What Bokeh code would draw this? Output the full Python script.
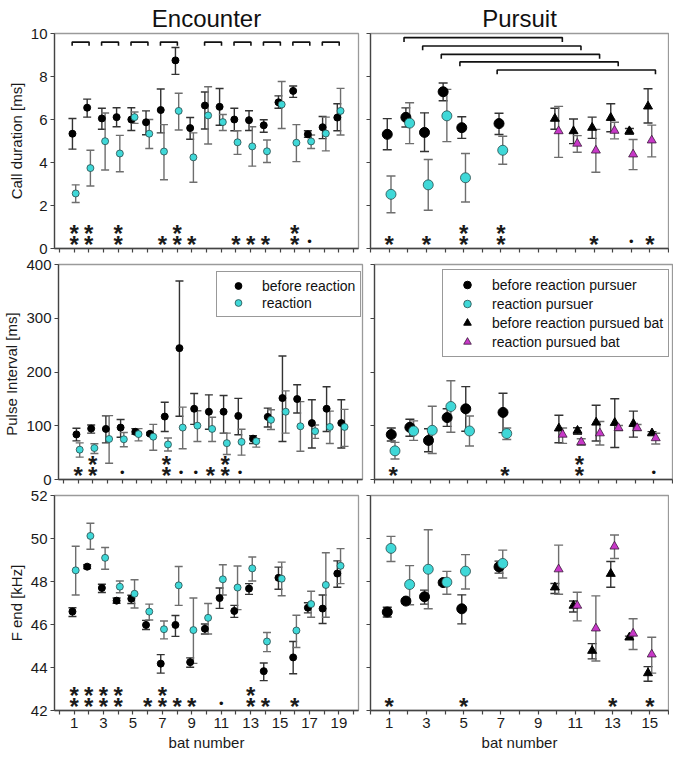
from bokeh.plotting import figure
from bokeh.layouts import column, row
from bokeh.models import Range1d, FixedTicker, Legend, LegendItem
from bokeh.core.properties import value
from bokeh.embed import file_html
from bokeh.resources import INLINE

FONT = "Liberation Sans"
CYAN = "#3fd8d8"
MAGENTA = "#c838c8"
EDARK = "#333333"
EGREY = "#6e6e6e"

# ---------------- Encounter (bats 1..19) ----------------
enc_bats = list(range(1, 20))

enc_dur_b = [5.34, 6.55, 6.05, 6.11, 6.00, 5.87, 6.44, 8.75, 5.60, 6.65, 6.59, 6.00, 5.97, 5.73, 6.80, 7.33, 5.31, 5.64, 6.09]
enc_dur_b_lo = [4.62, 6.11, 5.55, 5.66, 5.49, 5.29, 5.38, 8.10, 5.08, 5.56, 5.73, 5.48, 5.49, 5.41, 6.52, 7.03, 5.17, 5.11, 5.48]
enc_dur_b_hi = [6.05, 6.95, 6.52, 6.55, 6.55, 6.40, 7.42, 9.35, 6.09, 7.28, 7.44, 6.52, 6.41, 5.99, 7.10, 7.56, 5.48, 6.14, 6.73]
enc_dur_r = [2.56, 3.74, 4.99, 4.42, 6.11, 5.34, 4.51, 6.40, 4.24, 6.19, 5.88, 4.94, 4.75, 4.52, 6.70, 4.92, 4.98, 5.35, 6.40]
enc_dur_r_lo = [2.14, 2.91, 3.65, 3.57, 5.82, 4.65, 3.20, 5.51, 3.08, 4.86, 5.49, 4.38, 3.83, 4.00, 5.58, 4.04, 4.65, 4.54, 5.28]
enc_dur_r_hi = [2.96, 4.57, 6.30, 5.26, 6.35, 6.00, 5.76, 7.22, 5.38, 7.52, 6.23, 5.48, 5.66, 5.05, 7.77, 5.76, 5.28, 6.11, 7.45]

enc_pi_b = [83.9, 94.7, 94.1, 96.6, 88.7, 85.1, 117.1, 244.4, 131.6, 126.1, 126.1, 118.3, 76.0, 116.5, 151.5, 149.7, 105.0, 131.6, 105.0]
enc_pi_b_lo = [71.8, 86.3, 68.2, 78.5, 84.5, 82.7, 89.3, 117.7, 102.6, 93.5, 86.3, 83.3, 67.0, 97.8, 70.6, 123.7, 58.5, 89.3, 58.5]
enc_pi_b_hi = [95.4, 101.4, 118.3, 111.6, 94.7, 87.5, 143.6, 369.3, 159.9, 157.5, 156.3, 150.9, 81.5, 132.8, 229.9, 176.2, 148.5, 172.6, 148.5]
enc_pi_r = [55.5, 58.5, 75.4, 74.8, 84.5, 79.7, 65.2, 96.6, 100.2, 94.1, 67.6, 70.0, 71.2, 111.0, 126.1, 99.0, 89.9, 97.8, 97.8]
enc_pi_r_lo = [41.6, 48.3, 30.2, 61.0, 71.8, 54.3, 53.1, 57.3, 70.6, 70.6, 46.5, 45.3, 60.3, 92.9, 86.3, 52.5, 76.6, 67.0, 61.6]
enc_pi_r_hi = [68.2, 66.4, 118.9, 87.5, 94.7, 102.6, 77.2, 134.6, 128.0, 115.9, 86.3, 93.5, 76.0, 129.8, 164.8, 144.8, 101.4, 127.3, 130.4]

enc_fe_b = [46.60, 48.69, 47.70, 47.11, 47.20, 45.98, 44.18, 45.98, 44.25, 45.80, 47.23, 46.63, 47.67, 43.83, 48.17, 44.47, 46.78, 46.74, 48.37]
enc_fe_b_lo = [46.37, 48.60, 47.49, 46.99, 46.98, 45.77, 43.74, 45.45, 44.01, 45.56, 46.75, 46.33, 47.40, 43.39, 47.64, 43.71, 46.54, 46.05, 47.73]
enc_fe_b_hi = [46.78, 48.78, 47.87, 47.23, 47.36, 46.19, 44.60, 46.42, 44.45, 46.02, 47.70, 46.89, 47.90, 44.21, 48.67, 45.21, 47.01, 47.37, 48.96]
enc_fe_r = [48.52, 50.12, 49.10, 47.76, 47.43, 46.60, 45.78, 47.82, 45.74, 46.31, 48.10, 47.72, 48.61, 45.21, 48.13, 45.72, 46.95, 47.84, 48.73]
enc_fe_r_lo = [47.37, 49.50, 48.57, 47.48, 46.77, 46.21, 45.33, 46.89, 44.19, 45.56, 47.37, 46.69, 48.02, 44.74, 47.34, 44.93, 46.34, 46.34, 47.90]
enc_fe_r_hi = [49.64, 50.71, 49.58, 48.02, 48.08, 46.95, 46.16, 48.70, 47.23, 46.98, 48.78, 48.72, 49.14, 45.63, 48.90, 46.43, 47.55, 49.34, 49.53]

enc_pairs = [(1, 2), (3, 4), (5, 6), (7, 8), (10, 11), (12, 13), (14, 15), (16, 17), (18, 19)]

enc_dur_sig = [(1, "**"), (2, "**"), (4, "**"), (7, "*"), (8, "**"), (9, "*"), (12, "*"), (13, "*"), (14, "*"), (16, "**"), (17, ".")]
enc_pi_sig = [(1, "*"), (2, "**"), (4, "."), (7, "**"), (8, "."), (9, "."), (10, "*"), (11, "**"), (12, ".")]
enc_fe_sig = [(1, "**"), (2, "**"), (3, "**"), (4, "**"), (6, "*"), (7, "**"), (8, "*"), (9, "*"), (11, "."), (13, "**"), (14, "*"), (16, "*")]

# ---------------- Pursuit ----------------
pur_bats = [1, 2, 3, 4, 5, 7]        # pursuers
prd_bats = [10, 11, 12, 13, 14, 15]  # pursued bats

pur_dur_b = [5.31, 6.10, 5.40, 7.29, 5.62, 5.81]
pur_dur_b_lo = [4.59, 5.65, 4.51, 6.87, 5.12, 5.30]
pur_dur_b_hi = [6.04, 6.54, 6.31, 7.70, 6.13, 6.29]
pur_dur_r = [2.52, 5.83, 2.96, 6.17, 3.29, 4.57]
pur_dur_r_lo = [1.66, 4.88, 1.78, 4.97, 2.16, 3.92]
pur_dur_r_hi = [3.37, 6.78, 4.14, 7.40, 4.42, 5.22]
prd_dur_b = [6.04, 5.46, 5.62, 6.08, 5.46, 6.61]
prd_dur_b_lo = [5.55, 4.88, 5.12, 5.43, 5.31, 5.84]
prd_dur_b_hi = [6.52, 6.02, 6.11, 6.73, 5.58, 7.43]
prd_dur_r = [5.46, 4.88, 4.56, 5.48, 4.38, 5.03]
prd_dur_r_lo = [4.24, 4.48, 3.55, 5.10, 3.67, 4.26]
prd_dur_r_hi = [6.61, 5.25, 5.54, 5.87, 5.07, 5.74]

pur_pi_b = [83.6, 97.0, 72.7, 115.2, 131.5, 124.8]
pur_pi_b_lo = [71.5, 80.6, 51.5, 98.8, 89.7, 87.3]
pur_pi_b_hi = [95.8, 112.1, 94.5, 131.5, 172.7, 160.6]
pur_pi_r = [53.3, 90.3, 91.5, 135.8, 90.3, 85.5]
pur_pi_r_lo = [38.2, 72.7, 48.5, 87.9, 62.4, 74.5]
pur_pi_r_hi = [69.1, 109.1, 136.4, 183.6, 118.2, 95.8]
prd_pi_b = [95.2, 90.9, 106.1, 105.5, 103.6, 86.1]
prd_pi_b_lo = [68.5, 84.2, 71.5, 59.4, 78.8, 83.6]
prd_pi_b_hi = [119.4, 96.4, 138.2, 150.3, 127.3, 89.1]
prd_pi_r = [83.6, 69.7, 86.1, 95.8, 95.8, 77.0]
prd_pi_r_lo = [67.3, 63.6, 64.2, 90.9, 90.9, 66.1]
prd_pi_r_hi = [95.8, 75.8, 107.9, 100.6, 102.4, 86.1]

pur_fe_b = [46.58, 47.09, 47.29, 47.95, 46.73, 48.68]
pur_fe_b_lo = [46.35, 46.97, 46.95, 47.82, 46.03, 48.39]
pur_fe_b_hi = [46.80, 47.18, 47.60, 48.04, 47.38, 48.95]
pur_fe_r = [49.54, 47.86, 48.57, 47.97, 48.48, 48.84]
pur_fe_r_lo = [48.93, 46.92, 46.73, 47.41, 47.65, 48.16]
pur_fe_r_hi = [50.10, 48.74, 50.41, 48.47, 49.25, 49.46]
prd_fe_b = [47.73, 46.88, 44.78, 48.36, 45.40, 43.74]
prd_fe_b_lo = [47.44, 46.58, 44.40, 47.73, 45.32, 43.36]
prd_fe_b_hi = [47.91, 47.09, 45.11, 48.93, 45.46, 44.04]
prd_fe_r = [48.57, 46.88, 45.82, 49.63, 45.58, 44.61]
prd_fe_r_lo = [47.41, 46.17, 44.30, 49.07, 44.84, 43.74]
prd_fe_r_hi = [49.69, 47.50, 47.33, 50.16, 46.27, 45.41]

pur_pairs = [(2, 10), (3, 11), (4, 12), (5, 13), (7, 15)]

pur_dur_sig = [(1, "*"), (3, "*"), (5, "**"), (7, "**"), (12, "*"), (14, "."), (15, "*")]
pur_pi_sig = [(1, "*"), (7, "*"), (11, "**"), (15, ".")]
pur_fe_sig = [(1, "*"), (5, "*"), (13, "*"), (15, "*")]

# axis settings
dur_range, dur_ticks = (0, 10), [0, 2, 4, 6, 8, 10]
pi_range, pi_ticks = (0, 400), [0, 100, 200, 300, 400]
fe_range, fe_ticks = (42, 52), [42, 44, 46, 48, 50, 52]

LFW, RFW, FH = 304, 298, 215


def make_fig(left, yr, yticks, ylabel=None, title=None, xlabels=False):
    p = figure(frame_width=LFW if left else RFW, frame_height=FH,
               x_range=Range1d(-0.33, 20.33) if left else Range1d(0, 16),
               y_range=Range1d(*yr),
               output_backend="svg", toolbar_location=None,
               min_border_left=54 if left else 8, min_border_right=4 if left else 1,
               min_border_top=0 if title else 7, min_border_bottom=44 if xlabels else 9,
               background_fill_color="white", border_fill_color="white")
    p.xgrid.visible = False
    p.ygrid.visible = False
    p.outline_line_color = "#9a9a9a"
    p.outline_line_width = 1.3
    if title:
        p.title.text = title
        p.title.align = "center"
        p.title.text_font = FONT
        p.title.text_font_size = "24px"
        p.title.text_font_style = "normal"
        p.title.text_color = "#111111"
        p.title.standoff = 4
    nmax = 20 if left else 16
    odd = list(range(1, nmax, 2))
    even = list(range(0, nmax + 1, 2))
    p.xaxis[0].ticker = FixedTicker(ticks=odd, minor_ticks=even)
    p.yaxis[0].ticker = FixedTicker(ticks=yticks, minor_ticks=[])
    for ax in (p.xaxis[0], p.yaxis[0]):
        ax.axis_line_color = "#444444"
        ax.axis_line_width = 1.3
        ax.major_tick_line_color = "#444444"
        ax.major_tick_line_width = 1.2
        ax.major_tick_out = 4
        ax.major_tick_in = 0
        ax.minor_tick_line_color = "#444444"
        ax.minor_tick_line_width = 1.2
        ax.minor_tick_out = 4
        ax.minor_tick_in = 0
        ax.major_label_text_font = FONT
        ax.major_label_text_font_size = "15px"
        ax.major_label_text_color = "#1a1a1a"
        ax.major_label_standoff = 3
        ax.axis_label_text_font = FONT
        ax.axis_label_text_font_size = "15px"
        ax.axis_label_text_font_style = "normal"
        ax.axis_label_text_color = "#1a1a1a"
        ax.axis_label_standoff = 3
    if xlabels:
        p.xaxis[0].axis_label = "bat number"
    else:
        p.xaxis[0].major_label_text_color = None
        p.xaxis[0].major_label_text_font_size = "1px"
        p.xaxis[0].major_label_standoff = 0
    if left:
        p.yaxis[0].axis_label = ylabel
    else:
        p.yaxis[0].major_label_text_color = None
        p.yaxis[0].major_label_text_font_size = "1px"
        p.yaxis[0].major_label_standoff = 0
    return p


def errbars(p, xs, lo, hi, color, cap):
    p.segment(x0=xs, y0=lo, x1=xs, y1=hi, line_color=color, line_width=1.4)
    p.scatter(x=list(xs) + list(xs), y=list(lo) + list(hi), marker="dash",
              size=cap, line_color=color, line_width=1.4)


def series(p, bats, dx, lo, hi, ecolor, cap):
    xs = [b + dx for b in bats]
    errbars(p, xs, lo, hi, ecolor, cap)
    return xs


def sig(p, marks, yr):
    y0, y1 = yr
    span = y1 - y0
    sx, sy, dx_, dy_ = [], [], [], []
    for b, code in marks:
        if code == ".":
            dx_.append(b)
            dy_.append(y0 + 0.03 * span)
        else:
            sx.append(b)
            sy.append(y0 + 0.033 * span)
            if code == "**":
                sx.append(b)
                sy.append(y0 + 0.083 * span)
    p.text(x=sx, y=sy, text=["*"] * len(sx), text_font=value(FONT),
           text_font_size="24px", text_font_style="bold", text_color="#1a1a1a",
           text_align="center", text_baseline="alphabetic", y_offset=3)
    if dx_:
        p.text(x=dx_, y=dy_, text=["\u2022"] * len(dx_), text_font=value(FONT),
               text_font_size="13px", text_color="#111111",
               text_align="center", text_baseline="alphabetic", y_offset=-1)


def brackets(p, pairs, levels, a, b, leg):
    xs, ys = [], []
    for (i, j), h in zip(pairs, levels):
        xs.append([i - a, i - a, j + b, j + b])
        ys.append([h - leg, h, h, h - leg])
    p.multi_line(xs=xs, ys=ys, line_color="#111111", line_width=1.6)


def enc_panel(yr, yticks, ylabel, b, blo, bhi, r, rlo, rhi, marks, title=None, xlabels=False):
    p = make_fig(True, yr, yticks, ylabel=ylabel, title=title, xlabels=xlabels)
    xb = series(p, enc_bats, -0.11, blo, bhi, EDARK, 8)
    xr = series(p, enc_bats, 0.11, rlo, rhi, EGREY, 8)
    rb = p.scatter(x=xb, y=b, marker="circle", size=7, fill_color="black", line_color="black")
    rr = p.scatter(x=xr, y=r, marker="circle", size=7, fill_color=CYAN, line_color="#2a4a4a", line_width=0.8)
    sig(p, marks, yr)
    return p, rb, rr


def pur_panel(yr, yticks, data, marks, title=None, xlabels=False):
    (pb, pblo, pbhi, pr, prlo, prhi, qb, qblo, qbhi, qr, qrlo, qrhi) = data
    p = make_fig(False, yr, yticks, title=title, xlabels=xlabels)
    x1 = series(p, pur_bats, -0.1, pblo, pbhi, EDARK, 9)
    x2 = series(p, pur_bats, 0.1, prlo, prhi, EGREY, 9)
    x3 = series(p, prd_bats, -0.1, qblo, qbhi, EDARK, 9)
    x4 = series(p, prd_bats, 0.1, qrlo, qrhi, EGREY, 9)
    r1 = p.scatter(x=x1, y=pb, marker="circle", size=10, fill_color="black", line_color="black")
    r2 = p.scatter(x=x2, y=pr, marker="circle", size=10, fill_color=CYAN, line_color="#2a4a4a", line_width=0.8)
    r3 = p.scatter(x=x3, y=qb, marker="triangle", size=9, fill_color="black", line_color="black")
    r4 = p.scatter(x=x4, y=qr, marker="triangle", size=9, fill_color=MAGENTA, line_color="#3a1a3a", line_width=0.8)
    sig(p, marks, yr)
    return p, (r1, r2, r3, r4)


def style_legend(lg):
    lg.label_text_font = FONT
    lg.label_text_font_size = "14px"
    lg.label_text_color = "#111111"
    lg.border_line_color = "#333333"
    lg.border_line_width = 1.3
    lg.background_fill_color = "white"
    lg.background_fill_alpha = 1.0
    lg.margin = 0


# Row 1: call duration
p1, _, _ = enc_panel(dur_range, dur_ticks, "Call duration [ms]",
                     enc_dur_b, enc_dur_b_lo, enc_dur_b_hi, enc_dur_r, enc_dur_r_lo, enc_dur_r_hi,
                     enc_dur_sig, title="Encounter")
brackets(p1, enc_pairs, [9.6] * len(enc_pairs), 0.13, 0.02, 0.17)

p2, _ = pur_panel(dur_range, dur_ticks,
                  (pur_dur_b, pur_dur_b_lo, pur_dur_b_hi, pur_dur_r, pur_dur_r_lo, pur_dur_r_hi,
                   prd_dur_b, prd_dur_b_lo, prd_dur_b_hi, prd_dur_r, prd_dur_r_lo, prd_dur_r_hi),
                  pur_dur_sig, title="Pursuit")
brackets(p2, pur_pairs, [9.81, 9.42, 9.03, 8.68, 8.30], 0.2, 0.3, 0.2)

# Row 2: pulse interval
p3, rb, rr = enc_panel(pi_range, pi_ticks, "Pulse Interval  [ms]",
                       enc_pi_b, enc_pi_b_lo, enc_pi_b_hi, enc_pi_r, enc_pi_r_lo, enc_pi_r_hi,
                       enc_pi_sig)
lg1 = Legend(items=[LegendItem(label="before reaction", renderers=[rb]),
                    LegendItem(label="reaction", renderers=[rr])],
             location=(LFW - 146, FH - 9 - 44),
             padding=5, spacing=0, glyph_width=32, glyph_height=17, label_height=17,
             label_standoff=8)
style_legend(lg1)
p3.add_layout(lg1)

p4, rends = pur_panel(pi_range, pi_ticks,
                      (pur_pi_b, pur_pi_b_lo, pur_pi_b_hi, pur_pi_r, pur_pi_r_lo, pur_pi_r_hi,
                       prd_pi_b, prd_pi_b_lo, prd_pi_b_hi, prd_pi_r, prd_pi_r_lo, prd_pi_r_hi),
                      pur_pi_sig)
lg2 = Legend(items=[LegendItem(label="before reaction pursuer", renderers=[rends[0]]),
                    LegendItem(label="reaction pursuer", renderers=[rends[1]]),
                    LegendItem(label="before reaction pursued bat", renderers=[rends[2]]),
                    LegendItem(label="reaction pursued bat", renderers=[rends[3]])],
             location=(RFW - 230, FH - 7 - 86),
             padding=5, spacing=0, glyph_width=38, glyph_height=19, label_height=19,
             label_standoff=6)
style_legend(lg2)
p4.add_layout(lg2)

# Row 3: F end
p5, _, _ = enc_panel(fe_range, fe_ticks, "F end [kHz]",
                     enc_fe_b, enc_fe_b_lo, enc_fe_b_hi, enc_fe_r, enc_fe_r_lo, enc_fe_r_hi,
                     enc_fe_sig, xlabels=True)
p6, _ = pur_panel(fe_range, fe_ticks,
                  (pur_fe_b, pur_fe_b_lo, pur_fe_b_hi, pur_fe_r, pur_fe_r_lo, pur_fe_r_hi,
                   prd_fe_b, prd_fe_b_lo, prd_fe_b_hi, prd_fe_r, prd_fe_r_lo, prd_fe_r_hi),
                  pur_fe_sig, xlabels=True)

layout = column(row(p1, p2), row(p3, p4), row(p5, p6))

open("out.html", "w").write(file_html(layout, INLINE))
